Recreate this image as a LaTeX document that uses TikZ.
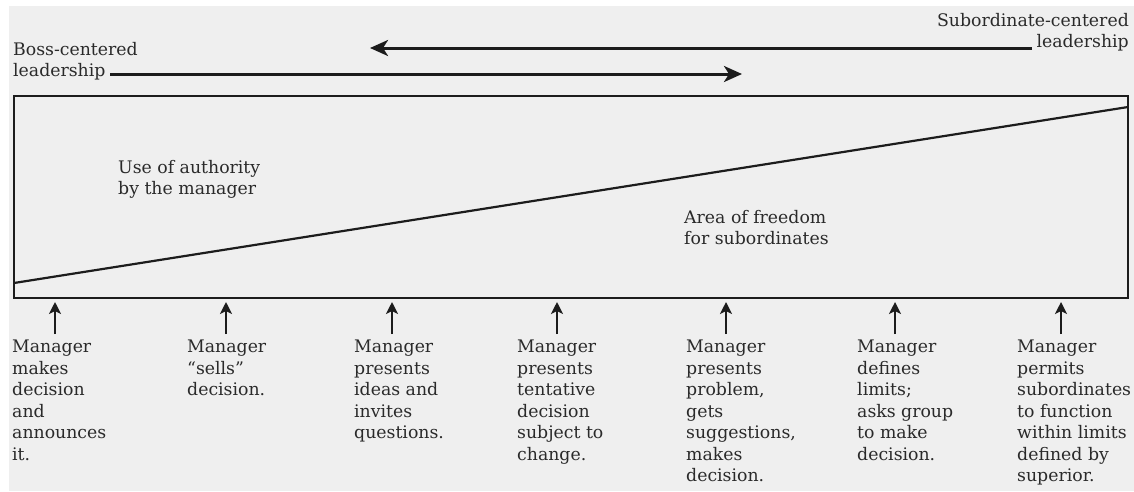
\documentclass[tikz,border=0pt]{standalone}
\usepackage{fontspec}
\setmainfont{DejaVu Serif}
\usetikzlibrary{arrows.meta}
\definecolor{bg}{HTML}{EFEFEF}
\definecolor{ink}{HTML}{1C1C1C}
\definecolor{txt}{HTML}{2A2A2A}
\tikzset{
  lbl/.style={inner sep=0pt, anchor=north west, align=left, text=txt,
    font=\fontsize{17.3}{21.5}\selectfont, execute at begin node=\strut},
  lblr/.style={lbl, anchor=north east, align=right},
  bigarrow/.style={draw=ink, line width=3pt, -{Stealth[length=18pt,width=16pt,inset=5pt]}},
  upArrow/.style={draw=ink, line width=2.6pt, -{Stealth[length=12pt,width=12pt,inset=3pt]}},
  frame/.style={draw=ink, line width=2.8pt},
  diag/.style={draw=ink, line width=2.2pt}
}
\begin{document}
\begin{tikzpicture}[x=1pt,y=-1pt]
\useasboundingbox (0,0) rectangle (1134,491);
\fill[white] (0,0) rectangle (1134,491);
\fill[bg] (9,6) rectangle (1134,491);
% node top = first baseline - 15.05
% top labels
\node[lbl] (boss) at (13,42) {Boss-centered\\leadership};
\node[lblr] (sub) at (1129,13) {Subordinate-centered\\leadership};
\coordinate (bossend) at (110,74);
\coordinate (bosstip) at (742,74);
\coordinate (subend) at (1032,48);
\coordinate (subtip) at (370,48);
\draw[bigarrow] (subend) -- (subtip);
\draw[bigarrow] (bossend) -- (bosstip);
% box
\coordinate (bl) at (14,298);
\coordinate (tr) at (1128,96);
\draw[frame] (bl) rectangle (tr);
\coordinate (dl) at (14,283);
\coordinate (dr) at (1128,107);
\draw[diag] (dl) -- (dr);
\node[lbl] (auth) at (118,160) {Use of authority\\by the manager};
\node[lbl] (free) at (684,210) {Area of freedom\\for subordinates};
% bottom labels
\node[lbl] (m1) at (12,340) {Manager\\makes\\decision\\and\\announces\\it.};
\node[lbl] (m2) at (187,340) {Manager\\``sells''\\decision.};
\node[lbl] (m3) at (354,340) {Manager\\presents\\ideas and\\invites\\questions.};
\node[lbl] (m4) at (517,340) {Manager\\presents\\tentative\\decision\\subject to\\change.};
\node[lbl] (m5) at (686,340) {Manager\\presents\\problem,\\gets\\suggestions,\\makes\\decision.};
\node[lbl] (m6) at (857,340) {Manager\\defines\\limits;\\asks group\\to make\\decision.};
\node[lbl] (m7) at (1017,340) {Manager\\permits\\subordinates\\to function\\within limits\\defined by\\superior.};
\foreach \i/\x in {1/55,2/226,3/392,4/557,5/726,6/895,7/1061}{
  \coordinate (a\i) at (\x,334);
  \coordinate (t\i) at (\x,302);
  \draw[upArrow] (a\i) -- (t\i);
}
\end{tikzpicture}
\end{document}
